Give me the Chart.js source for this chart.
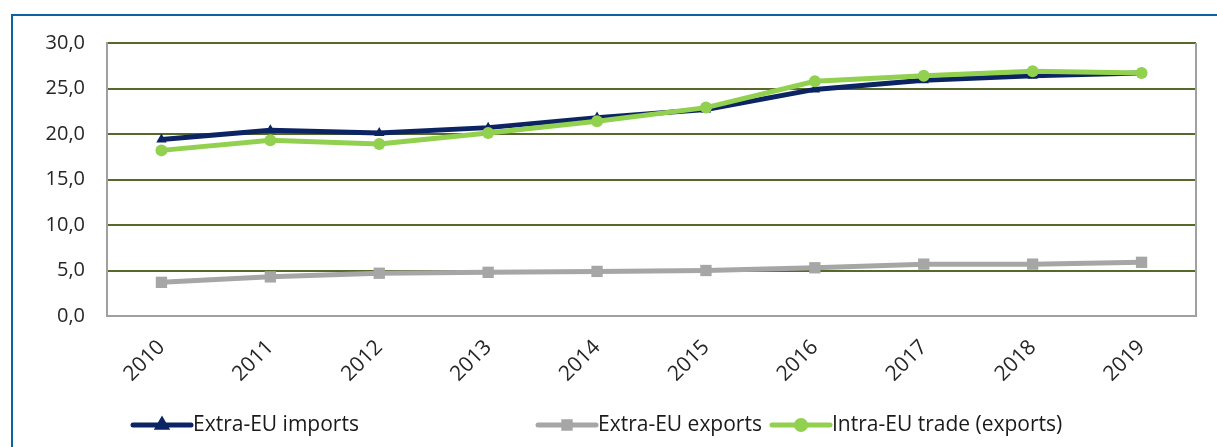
<!DOCTYPE html>
<html>
<head>
<meta charset="utf-8">
<script src="https://cdn.jsdelivr.net/npm/chart.js@4"></script>
<style>
  html, body { margin: 0; padding: 0; background: #fff; }
  #frame { position: absolute; left: 11px; top: 14px; width: 1300px; height: 500px;
           border-left: 2px solid #0b63a3; border-top: 2px solid #0b63a3; }
  #wrap { position: absolute; left: 0; top: 0; width: 1217px; height: 447px; }
</style>
</head>
<body>
<div id="frame"></div>
<div id="wrap"><canvas id="myChart" width="1217" height="447"></canvas></div>
<script>
const years = ['2010', '2011', '2012', '2013', '2014', '2015', '2016', '2017', '2018', '2019'];
const extraImports = [19.4, 20.4, 20.1, 20.7, 21.8, 22.7, 24.9, 25.9, 26.4, 26.7];
const extraExports = [3.7, 4.3, 4.7, 4.8, 4.9, 5.0, 5.3, 5.7, 5.7, 5.9];
const intraTrade = [18.2, 19.3, 18.9, 20.1, 21.4, 22.9, 25.8, 26.4, 26.9, 26.7];
const yTicks = [0, 5, 10, 15, 20, 25, 30];

const FONT = "'Open Sans', 'Noto Sans', sans-serif";
const NAVY = '#0c2463';
const GREY = '#a6a6a6';
const GREEN = '#92d050';
const OLIVE = '#56692a';
const AXIS = '#a0a0a0';

// grey edge on the right of the plot area
const plotFrame = {
  id: 'plotFrame',
  beforeDatasetsDraw(chart) {
    const a = chart.chartArea, ctx = chart.ctx;
    ctx.save();
    ctx.strokeStyle = AXIS;
    ctx.lineWidth = 2;
    ctx.beginPath();
    ctx.moveTo(a.right, a.top);
    ctx.lineTo(a.right, a.bottom);
    ctx.stroke();
    ctx.restore();
  }
};

// excel-like legend: line + marker + text
const lineLegend = {
  id: 'lineLegend',
  afterDraw(chart, args, opts) {
    const ctx = chart.ctx;
    ctx.save();
    chart.data.datasets.forEach((ds, i) => {
      const x = opts.starts[i], y = opts.y, w = opts.lineWidth;
      ctx.strokeStyle = ds.borderColor;
      ctx.lineWidth = 5;
      ctx.lineCap = 'round';
      ctx.beginPath();
      ctx.moveTo(x, y);
      ctx.lineTo(x + w, y);
      ctx.stroke();
      Chart.helpers.drawPoint(ctx, {
        pointStyle: ds.pointStyle, radius: 4.5, borderWidth: 1, rotation: 0
      }, x + w / 2, y);
      ctx.fillStyle = ds.borderColor;
      ctx.fill();
      ctx.fillStyle = '#1a1a1a';
      ctx.font = '21px ' + FONT;
      ctx.textBaseline = 'middle';
      ctx.textAlign = 'left';
      ctx.fillText(ds.label, x + w + 2, y);
    });
    ctx.restore();
  }
};

new Chart(document.getElementById('myChart'), {
  type: 'line',
  data: {
    labels: years,
    datasets: [
      {
        label: 'Extra-EU imports',
        data: extraImports,
        borderColor: NAVY,
        backgroundColor: NAVY,
        borderWidth: 5,
        pointStyle: 'triangle',
        pointRadius: 6,
        pointBorderWidth: 0,
        order: 3
      },
      {
        label: 'Extra-EU exports',
        data: extraExports,
        borderColor: GREY,
        backgroundColor: GREY,
        borderWidth: 5,
        pointStyle: 'rect',
        pointRadius: 8,
        pointBorderWidth: 0,
        order: 2
      },
      {
        label: 'Intra-EU trade (exports)',
        data: intraTrade,
        borderColor: GREEN,
        backgroundColor: GREEN,
        borderWidth: 5,
        pointStyle: 'circle',
        pointRadius: 6,
        pointBorderWidth: 0,
        order: 1
      }
    ]
  },
  options: {
    responsive: false,
    animation: false,
    layout: { padding: { top: 43, right: 21, left: 0, bottom: 0 } },
    plugins: {
      legend: { display: false },
      tooltip: { enabled: false },
      lineLegend: { starts: [133, 538, 772], y: 425, lineWidth: 58 }
    },
    scales: {
      x: {
        offset: true,
        grid: { display: false, drawTicks: false },
        border: { display: true, color: AXIS, width: 2 },
        ticks: {
          color: '#262626',
          font: { family: FONT, size: 21 },
          minRotation: 45,
          maxRotation: 45,
          autoSkip: false,
          padding: 19
        },
        afterFit(s) { s.height = 131; }
      },
      y: {
        min: 0,
        max: 30,
        afterBuildTicks(s) { s.ticks = yTicks.map(v => ({ value: v })); },
        grid: {
          drawTicks: false,
          lineWidth: 2,
          color: ctx => ctx.tick && ctx.tick.value === 0 ? AXIS : OLIVE
        },
        border: { display: true, color: AXIS, width: 2 },
        ticks: {
          color: '#262626',
          font: { family: FONT, size: 20 },
          padding: 22,
          callback: v => v.toFixed(1).replace('.', ',')
        },
        afterFit(s) { s.width = 107; }
      }
    }
  },
  plugins: [plotFrame, lineLegend]
});
</script>
</body>
</html>
